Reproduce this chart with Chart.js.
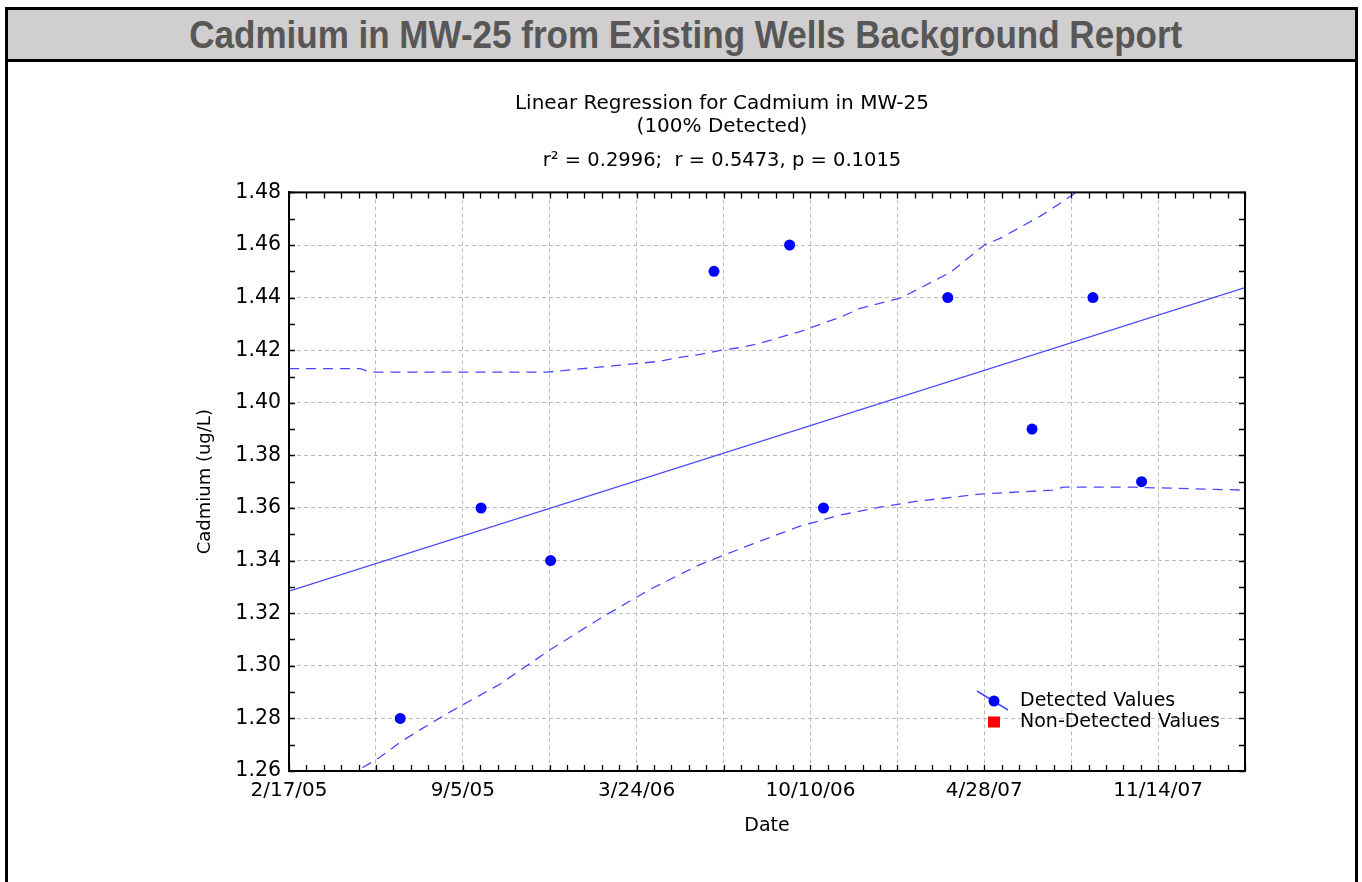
<!DOCTYPE html>
<html>
<head>
<meta charset="utf-8">
<title>Cadmium in MW-25 from Existing Wells Background Report</title>
<script src="https://cdn.jsdelivr.net/npm/chart.js@4.4.1/dist/chart.umd.min.js"></script>
<style>
  html, body { margin: 0; padding: 0; background: #fff; }
  body { width: 1362px; height: 882px; position: relative; overflow: hidden; }
  #plot { position: absolute; left: 0; top: 0; z-index: 1; }
  #frame {
    position: absolute; left: 5px; top: 7px; width: 1347px; height: 920px;
    border: 3px solid #000; z-index: 2; pointer-events: none;
  }
  #banner {
    position: absolute; left: 0; top: 0; width: 100%; height: 49px;
    background: #d0cece; border-bottom: 3px solid #000;
    text-align: center; line-height: 50px; overflow: hidden;
  }
  #banner span {
    display: inline-block; white-space: nowrap; margin-left: 8px;
    font-family: "Liberation Sans Narrow", "Arial Narrow", "Liberation Sans", Arial, sans-serif;
    font-weight: 700; font-size: 38px; color: #575757;
    transform-origin: 50% 50%;
  }
</style>
</head>
<body>
<canvas id="plot" width="1362" height="882"></canvas>
<div id="frame">
  <div id="banner"><span id="bannerText">Cadmium in MW-25 from Existing Wells Background Report</span></div>
</div>
<script>
// ---- axis setup ----
const originDate = '2005-02-17';   // left edge of the date axis
const spanDays = 1100;             // days shown on the date axis
const yMin = 1.26;
const yMax = 1.48;
const xTickLabels = ['2/17/05', '9/5/05', '3/24/06', '10/10/06', '4/28/07', '11/14/07'];

// ---- measured cadmium (ug/L) ----
const sampleDates = ['2005-06-25', '2005-09-26', '2005-12-15', '2006-06-21', '2006-09-16',
                     '2006-10-25', '2007-03-17', '2007-06-22', '2007-08-31', '2007-10-26'];
const cadmium = [1.28, 1.36, 1.34, 1.45, 1.46, 1.36, 1.44, 1.39, 1.44, 1.37];
const nonDetectDates = [];
const nonDetectValues = [];

// ---- regression line (days from origin) ----
const fitDays = [0, 1100];
const fitValues = [1.3284, 1.4438];

// ---- upper confidence band ----
const upperDays = [0, 82, 93, 298, 329, 381, 427, 450, 473, 496, 519, 542, 565, 588,
                   611, 634, 657, 705, 761, 800, 818, 841, 864, 887, 904, 925];
const upperValues = [1.4130, 1.4130, 1.4117, 1.4117, 1.4127, 1.4143, 1.4158, 1.4173, 1.4184,
                     1.4199, 1.4210, 1.4226, 1.4249, 1.4271, 1.4298, 1.4325, 1.4359, 1.4400,
                     1.4496, 1.4600, 1.4625, 1.4667, 1.4709, 1.4758, 1.4796, 1.4850];

// ---- lower confidence band ----
const lowerDays = [70, 78, 105, 128, 154, 185, 243, 300, 358, 415, 473, 530, 588, 634,
                   680, 723, 753, 795, 879, 891, 971, 1100];
const lowerValues = [1.2570, 1.2600, 1.2653, 1.2710, 1.2763, 1.2824, 1.2931, 1.3060, 1.3180,
                     1.3290, 1.3385, 1.3459, 1.3531, 1.3573, 1.3603, 1.3626, 1.3637, 1.3653,
                     1.3668, 1.3679, 1.3679, 1.3668];

const DAY_MS = 86400000;
const dayOf = s => (Date.parse(s) - Date.parse(originDate)) / DAY_MS;
const pairs = (xs, ys) => xs.map((x, i) => ({ x, y: ys[i] }));

const BLUE = '#0000ff';
const LINE_BLUE = 'rgb(72, 72, 255)';
const FONT = 'DejaVu Sans';

// fit the banner title to its width
(function () {
  const el = document.getElementById('bannerText');
  const w = el.getBoundingClientRect().width;
  el.style.transform = 'scaleX(' + (993 / w) + ')';
})();

// frame box, inward minor ticks and the in-plot legend
const frameAndLegend = {
  id: 'frameAndLegend',
  afterDatasetsDraw(chart) {
    const { ctx, chartArea: a, scales: { x, y } } = chart;
    ctx.save();
    ctx.strokeStyle = '#000';
    ctx.lineWidth = 1.3;
    ctx.beginPath();
    for (let d = 0; d <= spanDays; d += 20) {
      const px = Math.round(x.getPixelForValue(d)) + 0.5;
      ctx.moveTo(px, a.bottom); ctx.lineTo(px, a.bottom - 6);
      ctx.moveTo(px, a.top); ctx.lineTo(px, a.top + 6);
    }
    const steps = Math.round((yMax - yMin) / 0.01);
    for (let i = 0; i <= steps; i++) {
      const py = Math.round(y.getPixelForValue(yMin + i * 0.01)) + 0.5;
      ctx.moveTo(a.left, py); ctx.lineTo(a.left + 6, py);
      ctx.moveTo(a.right, py); ctx.lineTo(a.right - 6, py);
    }
    ctx.stroke();
    ctx.lineWidth = 2;
    ctx.strokeRect(a.left, a.top, a.right - a.left, a.bottom - a.top);

    // legend
    const det = chart.data.datasets[0];
    const non = chart.data.datasets[1];
    const mx = a.right - 251;
    const y1 = a.bottom - 70;
    const y2 = a.bottom - 49;
    ctx.strokeStyle = LINE_BLUE;
    ctx.lineWidth = 1.5;
    ctx.beginPath();
    ctx.moveTo(mx - 17, y1 - 10); ctx.lineTo(mx + 14, y1 + 9);
    ctx.stroke();
    ctx.fillStyle = det.backgroundColor;
    ctx.beginPath(); ctx.arc(mx, y1, 5.5, 0, Math.PI * 2); ctx.fill();
    ctx.fillStyle = non.backgroundColor;
    ctx.fillRect(mx - 6, y2 - 5.5, 12, 11);
    ctx.fillStyle = '#000';
    ctx.font = '19px "' + FONT + '"';
    ctx.textBaseline = 'middle';
    ctx.textAlign = 'left';
    ctx.fillText(det.label, a.right - 225, y1);
    ctx.fillText(non.label, a.right - 225, y2);
    ctx.restore();
  }
};

Chart.defaults.font.family = FONT;
Chart.defaults.color = '#000';

new Chart(document.getElementById('plot'), {
  type: 'scatter',
  data: {
    datasets: [
      {
        label: 'Detected Values',
        data: pairs(sampleDates.map(dayOf), cadmium),
        backgroundColor: BLUE, borderColor: BLUE, borderWidth: 0,
        pointRadius: 5.5, pointHoverRadius: 5.5
      },
      {
        label: 'Non-Detected Values',
        data: pairs(nonDetectDates.map(dayOf), nonDetectValues),
        backgroundColor: '#ff0000', borderColor: '#ff0000',
        pointStyle: 'rect', pointRadius: 6
      },
      {
        label: 'Regression',
        data: pairs(fitDays, fitValues),
        showLine: true, borderColor: LINE_BLUE, borderWidth: 1.3,
        pointRadius: 0, fill: false
      },
      {
        label: 'Upper band',
        data: pairs(upperDays, upperValues),
        showLine: true, borderColor: LINE_BLUE, borderWidth: 1.3, borderDash: [10, 7],
        pointRadius: 0, fill: false
      },
      {
        label: 'Lower band',
        data: pairs(lowerDays, lowerValues),
        showLine: true, borderColor: LINE_BLUE, borderWidth: 1.3, borderDash: [10, 7],
        pointRadius: 0, fill: false
      }
    ]
  },
  options: {
    responsive: false,
    animation: false,
    devicePixelRatio: 1,
    layout: { padding: { left: 199, right: 117, top: 92, bottom: 0 } },
    plugins: {
      legend: { display: false },
      tooltip: { enabled: false },
      title: {
        display: true,
        text: ['Linear Regression for Cadmium in MW-25', '(100% Detected)'],
        font: { size: 20, weight: 'normal', lineHeight: 1.15 },
        color: '#000',
        padding: { top: 0, bottom: 11 }
      },
      subtitle: {
        display: true,
        text: 'r\u00B2 = 0.2996;  r = 0.5473, p = 0.1015',
        font: { size: 19.5, weight: 'normal', lineHeight: 1.2 },
        color: '#000',
        padding: { top: 0, bottom: 20 }
      }
    },
    scales: {
      x: {
        type: 'linear',
        min: 0, max: spanDays,
        afterFit(scale) { scale.height = 111; },
        ticks: {
          stepSize: 100, autoSkip: false, maxRotation: 0, padding: 8,
          font: { size: 20 }, color: '#000',
          callback: v => (v % 200 === 0 ? (xTickLabels[v / 200] || '') : '')
        },
        grid: { color: '#bcbcbc', lineWidth: 1, drawTicks: false },
        border: { display: true, color: '#000', width: 2, dash: [4, 3] },
        title: {
          display: true, text: 'Date', font: { size: 19 }, color: '#000',
          padding: { top: 0, bottom: 44.6 }
        }
      },
      y: {
        min: yMin, max: yMax,
        afterFit(scale) { scale.width = 90; },
        ticks: {
          stepSize: 0.02, padding: 8, font: { size: 20.5 }, color: '#000',
          callback: v => Number(v).toFixed(2)
        },
        grid: { color: '#bcbcbc', lineWidth: 1, drawTicks: false },
        border: { display: true, color: '#000', width: 2, dash: [4, 3] },
        title: {
          display: true, text: 'Cadmium (ug/L)', font: { size: 18 }, color: '#000',
          padding: { top: -4, bottom: 0 }
        }
      }
    }
  },
  plugins: [frameAndLegend]
});
</script>
</body>
</html>
